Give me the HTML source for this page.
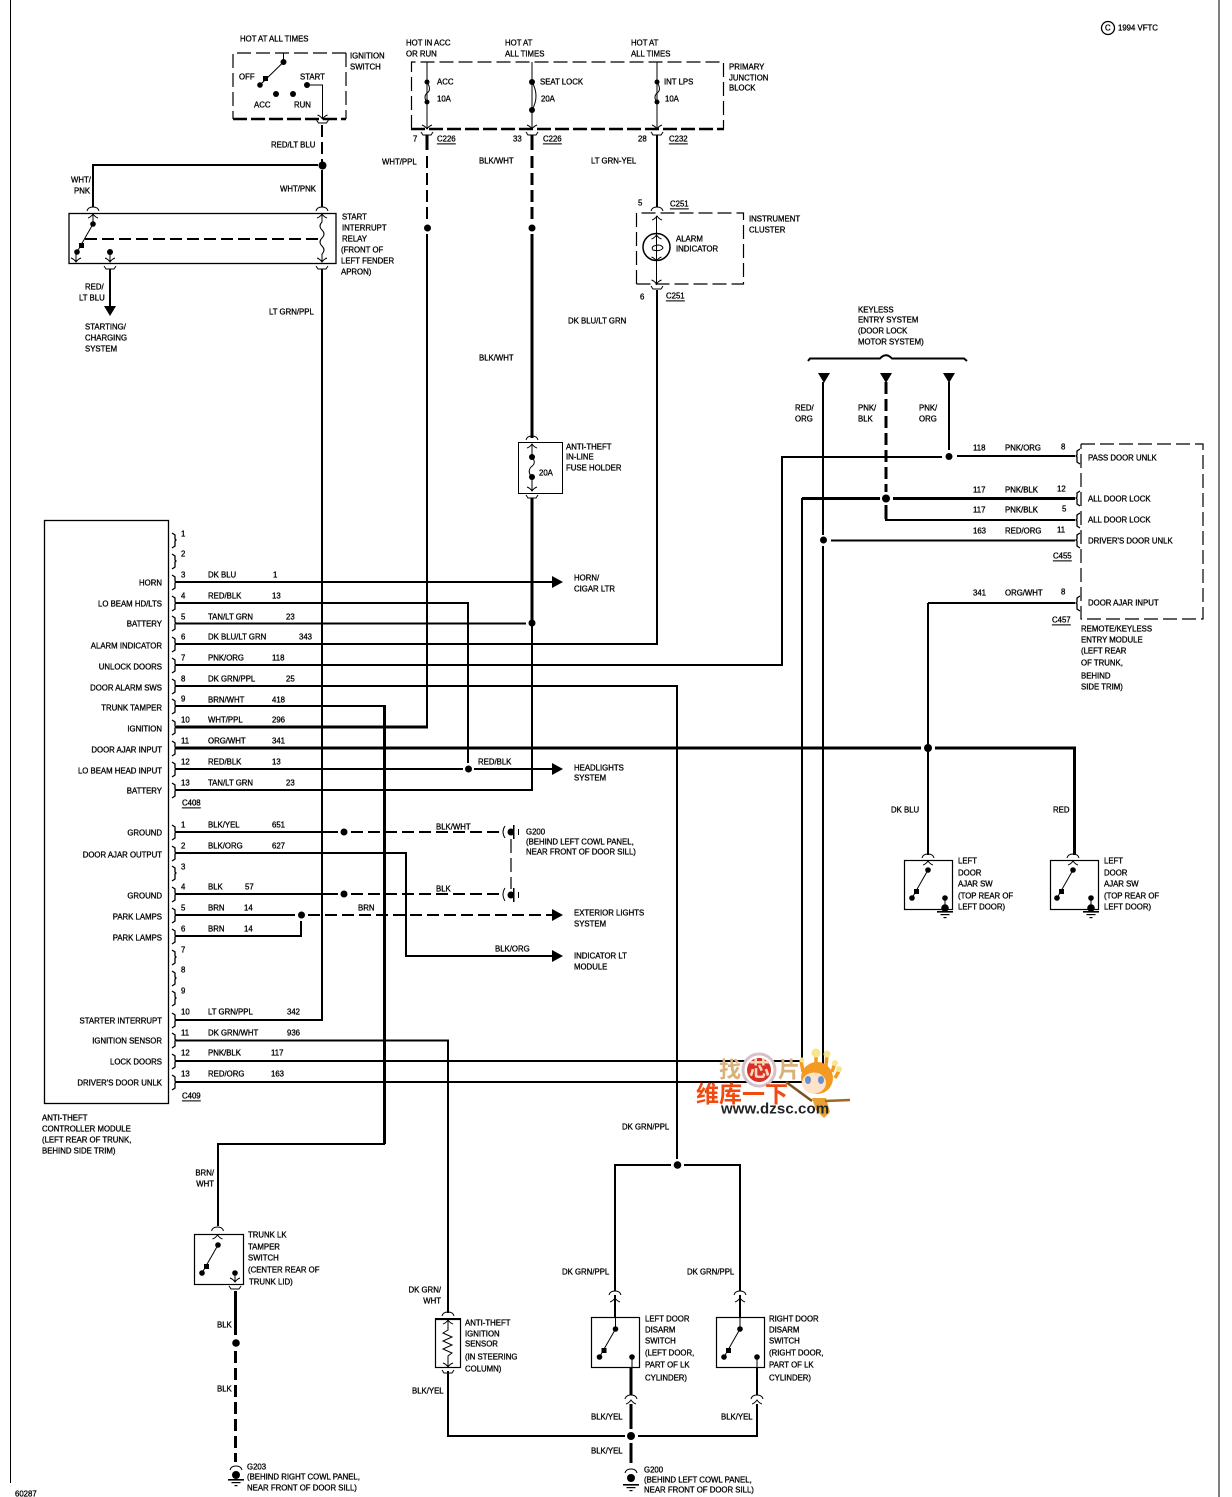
<!DOCTYPE html>
<html><head><meta charset="utf-8"><style>
html,body{margin:0;padding:0;background:#fff}
svg{display:block}
text{font-family:"Liberation Sans","Noto Sans CJK SC",sans-serif;font-size:7.8px;fill:#000;stroke:#000;stroke-width:.3;dominant-baseline:central}
.e{text-anchor:end}
.w,.k,.b,.d,.dk,.n{fill:none;stroke:#000}
.w{stroke-width:2}.k{stroke-width:3}.n{stroke-width:1}
.d{stroke-width:2;stroke-dasharray:12 5}.dk{stroke-width:3;stroke-dasharray:12 5}
.b{stroke-width:1.2;stroke-dasharray:14 5}
.bb{fill:none;stroke:#000;stroke-width:2.5;stroke-dasharray:14 4}
.u{text-decoration:underline}
</style></head><body>
<svg xmlns="http://www.w3.org/2000/svg" width="1232" height="1497" viewBox="0 0 1232 1497">
<defs>
<path id="at" class="n" d="M-6 2Q-5 -2 0 -2Q5 -2 6 2"/>
<path id="up" class="n" d="M-5 4Q-2 3 0 0Q2 3 5 4"/>
<path id="dn" class="n" d="M-5 -4Q-2 -3 0 0Q2 -3 5 -4"/>
<path id="yy" class="n" d="M-6 -2L-4 1L4 1L6 -2"/>
<path id="p" fill="none" stroke="#000" stroke-width="1.3" d="M-4 -7L-1 -5L-1 -1L0 0L-1 1L-1 6L-4 8"/>
<path id="q" fill="none" stroke="#000" stroke-width="1.3" d="M4 -7L1 -5L1 -1L0 0L1 1L1 6L4 8"/>
<polygon id="ar" points="0,-6 11,0 0,6"/>
<polygon id="ad" points="-6,0 6,0 0,10"/>
<g id="sw"><circle r="2.8"/><circle cx="-16" cy="28" r="2.8"/><rect x="-14" y="19" width="5" height="5"/><path class="n" d="M0 0L-16 28"/></g>
<g id="gn"><rect x="-8" y="0" width="16" height="1.6"/><rect x="-4.5" y="3" width="9" height="1.2"/><rect x="-1.5" y="6" width="3" height="1.2"/></g>
</defs>
<rect width="1232" height="1497" fill="#fff"/>
<!-- frame -->
<path class="n" stroke-width="1.5" d="M10.5 0V1483M1219 0V1497"/>
<!-- ignition switch -->
<path class="b" d="M346 53H233V119"/><path class="b" d="M346 53V119"/><path class="bb" d="M233 119H346"/>
<path class="n" d="M283.500 53V62M283.500 62L260 85M307 85H322.500V119"/>
<circle cx="283.500" cy="62" r="3"/><circle cx="260" cy="85" r="2.800"/><rect x="263" y="76" width="5" height="5"/><circle cx="276" cy="94" r="3"/><circle cx="293" cy="94" r="3"/><circle cx="307" cy="85" r="3"/>
<use href="#dn" x="322.500" y="119"/><use href="#yy" x="322.500" y="122"/>
<path class="d" d="M322 125V162"/>
<circle cx="322.500" cy="165.500" r="4"/>
<path class="w" d="M318 165H93V207M322 170V207"/>
<use href="#at" x="93" y="209"/><use href="#up" x="93" y="214"/>
<use href="#at" x="322" y="209"/><use href="#up" x="322" y="214"/>
<rect x="69" y="213.500" width="267" height="50" fill="none" stroke="#000" stroke-width="1.300"/>
<use href="#sw" x="93" y="224"/><path class="n" d="M93 215V224M76 252V261M110 252V261"/>
<use href="#dn" x="76" y="262"/><circle cx="110" cy="252" r="3"/><use href="#dn" x="110" y="262"/>
<path class="d" d="M85 239H320"/>
<path class="n" d="M322 215V222Q318 226 322 230Q326 234 322 238Q318 242 322 246Q326 250 322 254V262"/>
<use href="#dn" x="322" y="262"/>
<use href="#yy" x="110" y="268"/><use href="#yy" x="322" y="268"/>
<path class="w" d="M110 269V306M322 269V1020H176"/>
<use href="#ad" x="110" y="306"/>
<!-- junction block -->
<path class="b" d="M411.500 129V62H723.500V129"/><path class="bb" d="M411 129H724"/>
<path class="n" d="M427 62V129M532 62V129M657 62V129"/>
<circle cx="427" cy="82" r="2.500"/><circle cx="427" cy="102" r="2.500"/><path class="n" fill="none" d="M427 82Q432 90 427 93Q423 97 427 102"/>
<circle cx="532" cy="82" r="3"/><circle cx="532" cy="110" r="3"/><path class="n" d="M532 82Q540 96 532 110"/>
<circle cx="657" cy="82" r="2.500"/><circle cx="657" cy="102" r="2.500"/><path class="n" d="M657 82Q662 90 657 93Q653 97 657 102"/>
<use href="#dn" x="427" y="129"/><use href="#yy" x="427" y="134"/><use href="#dn" x="532" y="129"/><use href="#yy" x="532" y="134"/><use href="#dn" x="657" y="129"/><use href="#yy" x="657" y="134"/>
<path class="k" d="M427 135V150M532 135V150"/>
<path class="w" d="M427 156V222"  stroke-dasharray="12 5"/>
<path class="dk" d="M532 156V222"/>
<circle cx="427.500" cy="228" r="3.500"/><circle cx="532" cy="228" r="3.500"/>
<path class="w" d="M427 234V728"/>
<path class="k" d="M176 727H428"/>
<path class="k" d="M532 234V438"/>
<use href="#at" x="532" y="438"/><use href="#up" x="532" y="444"/>
<rect x="518.500" y="442.500" width="44" height="51" fill="none" stroke="#000"/>
<circle cx="532" cy="457" r="3"/><circle cx="532" cy="477" r="3"/><path class="n" d="M532 444V457Q537 463 531 467Q527 472 532 477V490"/>
<use href="#dn" x="532" y="491"/><use href="#yy" x="532" y="497"/>
<path class="k" d="M532 498V625"/><path class="w" d="M532 625V790H176"/>
<!-- instrument cluster -->
<path class="w" d="M657 135V207"/>
<use href="#at" x="657" y="209"/><use href="#up" x="657" y="216"/>
<path class="b" d="M636.500 284V213H743.500V284H636.500"/>
<circle cx="656.500" cy="247" r="13.500" fill="none" stroke="#000" stroke-width="1.500"/>
<path class="n" d="M656.500 216V285"/><use href="#up" x="656.500" y="235"/><use href="#dn" x="656.500" y="261"/><use href="#dn" x="656.500" y="284"/><use href="#yy" x="657" y="288"/>
<path class="n" d="M658 245Q650 246 653 250Q660 252 663 248Q662 245 658 245Z"/>
<path class="w" d="M657 290V644H176"/>
<!-- controller -->
<rect x="44.500" y="520.500" width="124" height="583" fill="none" stroke="#000" stroke-width="1.300"/>
<g>
<use href="#p" x="176" y="540"/><use href="#p" x="176" y="561"/><use href="#p" x="176" y="582"/><use href="#p" x="176" y="603"/><use href="#p" x="176" y="623"/><use href="#p" x="176" y="644"/><use href="#p" x="176" y="665"/><use href="#p" x="176" y="686"/><use href="#p" x="176" y="706"/><use href="#p" x="176" y="727"/><use href="#p" x="176" y="748"/><use href="#p" x="176" y="769"/><use href="#p" x="176" y="790"/>
<use href="#p" x="176" y="832"/><use href="#p" x="176" y="853"/><use href="#p" x="176" y="873"/><use href="#p" x="176" y="894"/><use href="#p" x="176" y="915"/><use href="#p" x="176" y="936"/><use href="#p" x="176" y="957"/><use href="#p" x="176" y="978"/><use href="#p" x="176" y="998"/><use href="#p" x="176" y="1020"/><use href="#p" x="176" y="1040"/><use href="#p" x="176" y="1061"/><use href="#p" x="176" y="1082"/>
</g>
<path class="w" d="M176 582H553"/><use href="#ar" x="552" y="582"/>
<path class="w" d="M176 603H468V763"/><circle cx="468.500" cy="769" r="3.500"/>
<path class="w" d="M176 623.500H526"/><circle cx="532" cy="623" r="3.500"/>
<path class="w" d="M176 665H782V457H942"/><circle cx="949" cy="456.500" r="3.500"/><path class="w" d="M957 456H1075M949 382V450"/>
<path class="w" d="M176 686H677V1159"/>
<path class="w" d="M176 706H385"/><path class="k" d="M384.500 705V1144"/><path class="w" d="M385 1144H218V1226"/>
<path class="k" d="M176 748H921"/><circle cx="928" cy="748" r="4"/><path class="k" d="M935 748H1074.500V855"/>
<path class="w" d="M928 603V855"/>
<path class="w" d="M928 603H1075"/>
<path class="w" d="M176 769H463M474 769H553"/><use href="#ar" x="552" y="769"/>
<path class="w" d="M176 832H338"/><circle cx="344" cy="832" r="3.500"/><path class="d" d="M351 832H500"/>
<path class="w" d="M176 853H406V956H553"/><use href="#ar" x="552" y="956"/>
<path class="w" d="M176 894H338"/><circle cx="344" cy="894" r="3.500"/><path class="d" d="M351 894H500"/>
<path class="w" d="M176 915H295"/><circle cx="301.500" cy="915" r="3.500"/><path class="d" d="M308 915H552"/><use href="#ar" x="552" y="915"/>
<path class="w" d="M176 936H301V921"/>
<path class="w" d="M176 1040.500H448V1313"/>
<path class="w" d="M176 1061H802V498"/>
<path class="w" d="M176 1082H823V546"/>
<!-- grounds side -->
<g><path class="n" d="M505 826Q501 832 505 838"/><circle cx="511" cy="832" r="3.500"/><rect x="513" y="825" width="1.500" height="14"/><rect x="518" y="829" width="1" height="6"/>
<path class="n" d="M505 888Q501 894 505 901"/><circle cx="511" cy="895" r="3.500"/><rect x="513" y="888" width="1.500" height="14"/><rect x="518" y="892" width="1" height="6"/>
<path class="b" stroke-dasharray="12 5" d="M511 839V889"/></g>
<!-- keyless -->
<path class="w" d="M808 361L810 358.500H880Q886 352 892 358.500H964L967 361"/>
<use href="#ad" x="824" y="373"/><use href="#ad" x="886" y="373"/><use href="#ad" x="949" y="373"/>
<path class="w" d="M823 382V535"/><circle cx="823.500" cy="540" r="3.500"/>
<path class="dk" d="M886 382V492"/>
<circle cx="886" cy="498.500" r="4"/>
<path class="k" d="M802 498.500H880M893 498.500H1075M886 505V519"/>
<path class="w" d="M885 520H1075M831 540.500H1075"/>
<!-- remote module -->
<path class="b" d="M1081 444H1203V619H1081V444"/>
<use href="#q" x="1076" y="456"/><use href="#q" x="1076" y="498"/><use href="#q" x="1076" y="520"/><use href="#q" x="1076" y="540"/><use href="#q" x="1076" y="603"/>
<!-- door ajar switches -->
<use href="#at" x="928" y="856"/><use href="#up" x="928" y="861"/><rect x="904.500" y="860.500" width="48" height="49" fill="none" stroke="#000" stroke-width="1.200"/>
<use href="#sw" x="928" y="870"/><circle cx="945" cy="898" r="2.800"/><circle cx="945" cy="908" r="3.800"/><path class="n" d="M945 898V908"/><use href="#gn" x="945" y="911"/>
<use href="#at" x="1073" y="856"/><use href="#up" x="1073" y="861"/><rect x="1050.500" y="860.500" width="48" height="49" fill="none" stroke="#000" stroke-width="1.200"/>
<use href="#sw" x="1073" y="870"/><circle cx="1091" cy="898" r="2.800"/><circle cx="1091" cy="908" r="3.800"/><path class="n" d="M1091 898V908"/><use href="#gn" x="1091" y="911"/>
<!-- door disarm tree -->
<circle cx="677.500" cy="1165" r="3.800"/>
<path class="w" d="M671 1165H615V1291M684 1165H740V1291"/>
<use href="#at" x="615" y="1293"/><use href="#up" x="615" y="1298"/><path class="w" d="M615 1295V1317"/>
<use href="#at" x="740" y="1293"/><use href="#up" x="740" y="1298"/><path class="w" d="M740 1295V1317"/>
<rect x="591.500" y="1317.500" width="48" height="50" fill="none" stroke="#000" stroke-width="1.200"/>
<rect x="716.500" y="1317.500" width="48" height="50" fill="none" stroke="#000" stroke-width="1.200"/>
<path class="n" d="M615.500 1317V1329M740 1317V1329M632 1357V1368M757 1357V1368"/>
<use href="#sw" x="615.500" y="1329"/><use href="#sw" x="740" y="1329"/>
<circle cx="632" cy="1357" r="2.800"/><circle cx="757" cy="1357" r="2.800"/>
<path class="k" d="M631 1368V1395M631 1404V1429M631 1443V1463"/>
<use href="#at" x="631" y="1397"/><use href="#up" x="631" y="1400"/>
<path class="w" d="M757 1368V1395M757 1404V1436H638"/><use href="#at" x="757" y="1397"/><use href="#up" x="757" y="1400"/>
<path class="w" d="M448 1371V1436H625"/><circle cx="631" cy="1436" r="4"/>
<use href="#at" x="631" y="1471"/><circle cx="631" cy="1478" r="4"/><use href="#gn" x="631" y="1484"/>
<!-- sensor -->
<use href="#at" x="448" y="1314"/><rect x="435.500" y="1319.500" width="25" height="48" fill="none" stroke="#000" stroke-width="1.200"/><rect x="435" y="1318" width="26" height="2"/>
<use href="#up" x="448" y="1320"/><use href="#dn" x="448" y="1367"/><use href="#yy" x="448" y="1372"/>
<path class="n" d="M448 1321V1330L443 1333L452 1337L443 1341L452 1345L443 1349L452 1353L448 1356V1367"/>
<!-- trunk -->
<use href="#at" x="217.500" y="1229"/><use href="#up" x="217.500" y="1235"/>
<rect x="194.500" y="1234.500" width="49" height="50" fill="none" stroke="#000" stroke-width="1.200"/>
<use href="#sw" x="218" y="1245"/><circle cx="235" cy="1273" r="2.800"/><path class="n" d="M235 1273V1281"/><use href="#dn" x="235" y="1282"/><use href="#yy" x="235" y="1288"/>
<path class="k" d="M235.500 1291V1335"/><circle cx="236" cy="1343" r="3.800"/><path class="dk" d="M235.500 1351V1462"/>
<use href="#at" x="236" y="1468"/><circle cx="236" cy="1475" r="4"/><use href="#gn" x="236" y="1479"/>
<!-- copyright -->
<circle cx="1108" cy="28" r="6.500" fill="none" stroke="#000" stroke-width="1.300"/>
<text x="1105" y="28">C</text><text x="1118" y="28">1994 VFTC</text>
<!-- labels top -->
<text x="240" y="39">HOT AT ALL TIMES</text><text x="350" y="56">IGNITION</text><text x="350" y="67">SWITCH</text>
<text x="239" y="77">OFF</text><text x="300" y="77">START</text><text x="254" y="105">ACC</text><text x="294" y="105">RUN</text>
<text x="271" y="145">RED/LT BLU</text><text x="71" y="180">WHT/</text><text x="74" y="191">PNK</text><text x="280" y="189">WHT/PNK</text>
<text x="342" y="217">START</text><text x="342" y="228">INTERRUPT</text><text x="342" y="239">RELAY</text><text x="341" y="250">(FRONT OF</text><text x="341" y="261">LEFT FENDER</text><text x="341" y="272">APRON)</text>
<text x="85" y="287">RED/</text><text x="79" y="298">LT BLU</text><text x="85" y="327">STARTING/</text><text x="85" y="338">CHARGING</text><text x="85" y="349">SYSTEM</text><text x="269" y="312">LT GRN/PPL</text>
<text x="406" y="43">HOT IN ACC</text><text x="406" y="54">OR RUN</text><text x="505" y="43">HOT AT</text><text x="505" y="54">ALL TIMES</text><text x="631" y="43">HOT AT</text><text x="631" y="54">ALL TIMES</text>
<text x="729" y="67">PRIMARY</text><text x="729" y="78">JUNCTION</text><text x="729" y="88">BLOCK</text>
<text x="437" y="82">ACC</text><text x="437" y="99">10A</text><text x="540" y="82">SEAT LOCK</text><text x="541" y="99">20A</text><text x="664" y="82">INT LPS</text><text x="665" y="99">10A</text>
<text x="413" y="139">7</text><text x="437" y="139" class="u">C226</text><text x="513" y="139">33</text><text x="543" y="139" class="u">C226</text><text x="638" y="139">28</text><text x="669" y="139" class="u">C232</text>
<text x="382" y="162">WHT/PPL</text><text x="479" y="161">BLK/WHT</text><text x="591" y="161">LT GRN-YEL</text>
<text x="638" y="203">5</text><text x="670" y="204" class="u">C251</text><text x="749" y="219">INSTRUMENT</text><text x="749" y="230">CLUSTER</text><text x="676" y="239">ALARM</text><text x="676" y="249">INDICATOR</text>
<text x="640" y="297">6</text><text x="666" y="296" class="u">C251</text><text x="568" y="321">DK BLU/LT GRN</text><text x="479" y="358">BLK/WHT</text>
<text x="566" y="447">ANTI-THEFT</text><text x="566" y="457">IN-LINE</text><text x="566" y="468">FUSE HOLDER</text><text x="539" y="473">20A</text>
<text x="574" y="578">HORN/</text><text x="574" y="589">CIGAR LTR</text><text x="574" y="768">HEADLIGHTS</text><text x="574" y="778">SYSTEM</text><text x="478" y="762">RED/BLK</text>
<text x="574" y="913">EXTERIOR LIGHTS</text><text x="574" y="924">SYSTEM</text><text x="574" y="956">INDICATOR LT</text><text x="574" y="967">MODULE</text>
<text x="436" y="827">BLK/WHT</text><text x="436" y="889">BLK</text><text x="358" y="908">BRN</text><text x="495" y="949">BLK/ORG</text>
<text x="526" y="832">G200</text><text x="526" y="842">(BEHIND LEFT COWL PANEL,</text><text x="526" y="852">NEAR FRONT OF DOOR SILL)</text>
<!-- module left labels -->
<g class="e">
<text class="e" x="162" y="583">HORN</text><text class="e" x="162" y="604">LO BEAM HD/LTS</text><text class="e" x="162" y="624">BATTERY</text><text class="e" x="162" y="646">ALARM INDICATOR</text><text class="e" x="162" y="667">UNLOCK DOORS</text><text class="e" x="162" y="688">DOOR ALARM SWS</text><text class="e" x="162" y="708">TRUNK TAMPER</text><text class="e" x="162" y="729">IGNITION</text><text class="e" x="162" y="750">DOOR AJAR INPUT</text><text class="e" x="162" y="771">LO BEAM HEAD INPUT</text><text class="e" x="162" y="791">BATTERY</text>
<text class="e" x="162" y="833">GROUND</text><text class="e" x="162" y="855">DOOR AJAR OUTPUT</text><text class="e" x="162" y="896">GROUND</text><text class="e" x="162" y="917">PARK LAMPS</text><text class="e" x="162" y="938">PARK LAMPS</text><text class="e" x="162" y="1021">STARTER INTERRUPT</text><text class="e" x="162" y="1041">IGNITION SENSOR</text><text class="e" x="162" y="1062">LOCK DOORS</text><text class="e" x="162" y="1083">DRIVER'S DOOR UNLK</text>
</g>
<text x="181" y="534">1</text><text x="181" y="554">2</text><text x="181" y="575">3</text><text x="181" y="596">4</text><text x="181" y="617">5</text><text x="181" y="637">6</text><text x="181" y="658">7</text><text x="181" y="679">8</text><text x="181" y="699">9</text><text x="181" y="720">10</text><text x="181" y="741">11</text><text x="181" y="762">12</text><text x="181" y="783">13</text>
<text x="208" y="575">DK BLU</text><text x="273" y="575">1</text><text x="208" y="596">RED/BLK</text><text x="272" y="596">13</text><text x="208" y="617">TAN/LT GRN</text><text x="286" y="617">23</text><text x="208" y="637">DK BLU/LT GRN</text><text x="299" y="637">343</text><text x="208" y="658">PNK/ORG</text><text x="272" y="658">118</text><text x="208" y="679">DK GRN/PPL</text><text x="286" y="679">25</text><text x="208" y="700">BRN/WHT</text><text x="272" y="700">418</text><text x="208" y="720">WHT/PPL</text><text x="272" y="720">296</text><text x="208" y="741">ORG/WHT</text><text x="272" y="741">341</text><text x="208" y="762">RED/BLK</text><text x="272" y="762">13</text><text x="208" y="783">TAN/LT GRN</text><text x="286" y="783">23</text>
<text x="182" y="803" class="u">C408</text>
<text x="181" y="825">1</text><text x="181" y="846">2</text><text x="181" y="867">3</text><text x="181" y="887">4</text><text x="181" y="908">5</text><text x="181" y="929">6</text><text x="181" y="950">7</text><text x="181" y="970">8</text><text x="181" y="991">9</text><text x="181" y="1012">10</text><text x="181" y="1033">11</text><text x="181" y="1053">12</text><text x="181" y="1074">13</text>
<text x="208" y="825">BLK/YEL</text><text x="272" y="825">651</text><text x="208" y="846">BLK/ORG</text><text x="272" y="846">627</text><text x="208" y="887">BLK</text><text x="245" y="887">57</text><text x="208" y="908">BRN</text><text x="244" y="908">14</text><text x="208" y="929">BRN</text><text x="244" y="929">14</text><text x="208" y="1012">LT GRN/PPL</text><text x="287" y="1012">342</text><text x="208" y="1033">DK GRN/WHT</text><text x="287" y="1033">936</text><text x="208" y="1053">PNK/BLK</text><text x="271" y="1053">117</text><text x="208" y="1074">RED/ORG</text><text x="271" y="1074">163</text>
<text x="182" y="1096" class="u">C409</text>
<text x="42" y="1118">ANTI-THEFT</text><text x="42" y="1129">CONTROLLER MODULE</text><text x="42" y="1140">(LEFT REAR OF TRUNK,</text><text x="42" y="1151">BEHIND SIDE TRIM)</text>
<!-- keyless labels -->
<text x="858" y="310">KEYLESS</text><text x="858" y="320">ENTRY SYSTEM</text><text x="858" y="331">(DOOR LOCK</text><text x="858" y="342">MOTOR SYSTEM)</text>
<text x="795" y="408">RED/</text><text x="795" y="419">ORG</text><text x="858" y="408">PNK/</text><text x="858" y="419">BLK</text><text x="919" y="408">PNK/</text><text x="919" y="419">ORG</text>
<text x="973" y="448">118</text><text x="1005" y="448">PNK/ORG</text><text x="1061" y="447">8</text><text x="973" y="490">117</text><text x="1005" y="490">PNK/BLK</text><text x="1057" y="489">12</text><text x="973" y="510">117</text><text x="1005" y="510">PNK/BLK</text><text x="1062" y="509">5</text><text x="973" y="531">163</text><text x="1005" y="531">RED/ORG</text><text x="1057" y="530">11</text><text x="973" y="593">341</text><text x="1005" y="593">ORG/WHT</text><text x="1061" y="592">8</text>
<text x="1088" y="458">PASS DOOR UNLK</text><text x="1088" y="499">ALL DOOR LOCK</text><text x="1088" y="520">ALL DOOR LOCK</text><text x="1088" y="541">DRIVER'S DOOR UNLK</text><text x="1088" y="603">DOOR AJAR INPUT</text>
<text x="1053" y="556" class="u">C455</text><text x="1052" y="620" class="u">C457</text>
<text x="1081" y="629">REMOTE/KEYLESS</text><text x="1081" y="640">ENTRY MODULE</text><text x="1081" y="651">(LEFT REAR</text><text x="1081" y="663">OF TRUNK,</text><text x="1081" y="676">BEHIND</text><text x="1081" y="687">SIDE TRIM)</text>
<text x="891" y="810">DK BLU</text><text x="1053" y="810">RED</text>
<text x="958" y="861">LEFT</text><text x="958" y="873">DOOR</text><text x="958" y="884">AJAR SW</text><text x="958" y="896">(TOP REAR OF</text><text x="958" y="907">LEFT DOOR)</text>
<text x="1104" y="861">LEFT</text><text x="1104" y="873">DOOR</text><text x="1104" y="884">AJAR SW</text><text x="1104" y="896">(TOP REAR OF</text><text x="1104" y="907">LEFT DOOR)</text>
<!-- bottom labels -->
<text x="622" y="1127">DK GRN/PPL</text><text x="562" y="1272">DK GRN/PPL</text><text x="687" y="1272">DK GRN/PPL</text>
<text x="441" y="1290" class="e">DK GRN/</text><text x="441" y="1301" class="e">WHT</text>
<text x="465" y="1323">ANTI-THEFT</text><text x="465" y="1334">IGNITION</text><text x="465" y="1344">SENSOR</text><text x="465" y="1357">(IN STEERING</text><text x="465" y="1369">COLUMN)</text>
<text x="645" y="1319">LEFT DOOR</text><text x="645" y="1330">DISARM</text><text x="645" y="1341">SWITCH</text><text x="645" y="1353">(LEFT DOOR,</text><text x="645" y="1365">PART OF LK</text><text x="645" y="1378">CYLINDER)</text>
<text x="769" y="1319">RIGHT DOOR</text><text x="769" y="1330">DISARM</text><text x="769" y="1341">SWITCH</text><text x="769" y="1353">(RIGHT DOOR,</text><text x="769" y="1365">PART OF LK</text><text x="769" y="1378">CYLINDER)</text>
<text x="412" y="1391">BLK/YEL</text><text x="591" y="1417">BLK/YEL</text><text x="721" y="1417">BLK/YEL</text><text x="591" y="1451">BLK/YEL</text>
<text x="644" y="1470">G200</text><text x="644" y="1480">(BEHIND LEFT COWL PANEL,</text><text x="644" y="1490">NEAR FRONT OF DOOR SILL)</text>
<text x="214" y="1173" class="e">BRN/</text><text x="214" y="1184" class="e">WHT</text>
<text x="248" y="1235">TRUNK LK</text><text x="248" y="1247">TAMPER</text><text x="248" y="1258">SWITCH</text><text x="248" y="1270">(CENTER REAR OF</text><text x="249" y="1282">TRUNK LID)</text>
<text x="217" y="1325">BLK</text><text x="217" y="1389">BLK</text>
<text x="247" y="1467">G203</text><text x="247" y="1477">(BEHIND RIGHT COWL PANEL,</text><text x="247" y="1488">NEAR FRONT OF DOOR SILL)</text>
<text x="15" y="1494">60287</text>
<!-- watermark -->
<g>
<text x="719" y="1070" style="font-size:22px;fill:#d8b27a;stroke:none;font-weight:bold">找</text>
<text x="778" y="1070" style="font-size:22px;fill:#d8b27a;stroke:none;font-weight:bold">片</text>
<circle cx="759" cy="1070" r="16" fill="#fff" stroke="#d8c0c8" stroke-width="3"/><circle cx="759" cy="1070" r="12" fill="#d83028"/>
<text x="749" y="1070" style="font-size:21px;fill:#f6d8b8;stroke:none;font-weight:bold">芯</text>
<text x="696" y="1094" style="font-size:23px;fill:#f04a10;stroke:none;font-weight:bold">维库一下</text>
<path d="M786 1082L812 1101" stroke="#7a5020" stroke-width="2.500" fill="none"/>
<path d="M812 1098H826L830 1112L824 1118L816 1110Z" fill="#e8a030"/>
<path d="M825 1101L850 1100" stroke="#a06820" stroke-width="2.500"/>
<path d="M816 1066V1054M826 1066L827 1055M832 1072L835 1063M835 1078L840 1069M803 1072L801 1060" stroke="#f59a20" stroke-width="3.500"/>
<circle cx="816" cy="1053" r="4.500" fill="#f6e690"/><circle cx="827" cy="1054" r="3.500" fill="#f6e690"/><circle cx="835" cy="1063" r="3" fill="#f6e690"/><circle cx="839" cy="1069" r="3" fill="#f6e690"/><circle cx="802" cy="1060" r="2.500" fill="#f6e690"/>
<circle cx="817" cy="1078" r="16" fill="#f59a20"/><ellipse cx="814" cy="1083" rx="12" ry="10.500" fill="#fde4c8"/>
<ellipse cx="808" cy="1080" rx="3" ry="4" fill="#6a90d0"/><ellipse cx="821" cy="1080" rx="3" ry="4" fill="#6a90d0"/>
<text x="721" y="1109" style="font-size:15px;fill:#222;stroke:none;font-weight:bold;letter-spacing:.1px">www.dzsc.com</text>
</g>
</svg>
</body></html>
